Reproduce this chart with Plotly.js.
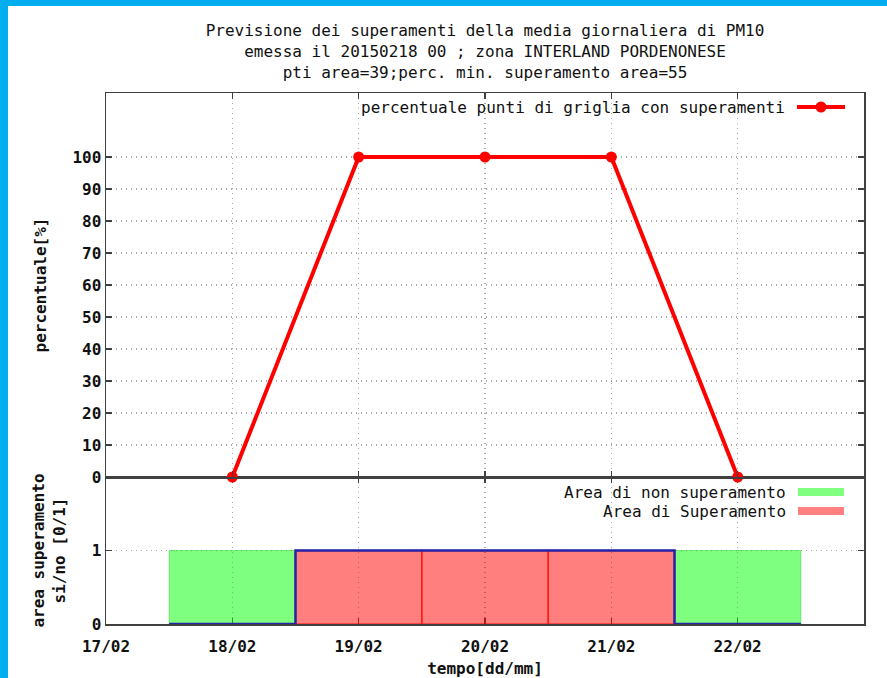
<!DOCTYPE html>
<html>
<head>
<meta charset="utf-8">
<script src="https://cdn.plot.ly/plotly-3.0.1.min.js"></script>
<style>
  html, body { margin: 0; padding: 0; background: #00AEEF; width: 887px; height: 678px; overflow: hidden; }
  #chart { position: absolute; left: 8px; top: 6px; width: 879px; height: 672px; background: #fff; }
</style>
</head>
<body>
<div id="chart"></div>
<script>
// ---- data ----
const days = [18, 19, 20, 21, 22];
const percentuale = [0, 100, 100, 100, 0];
const superamento = [0, 1, 1, 1, 0];   // 1 = area di superamento, 0 = non superamento
const tickDays = [17, 18, 19, 20, 21, 22, 23];
const tickLabels = ['17/02', '18/02', '19/02', '20/02', '21/02', '22/02', '23/02'];
const topTicks = [0, 10, 20, 30, 40, 50, 60, 70, 80, 90, 100];
const titleLines = [
  'Previsione dei superamenti della media giornaliera di PM10',
  'emessa il 20150218 00 ; zona INTERLAND PORDENONESE',
  'pti area=39;perc. min. superamento area=55'
];
const legendTop = 'percentuale punti di griglia con superamenti';
const legendNon = 'Area di non superamento';
const legendSup = 'Area di Superamento';

// ---- derived ----
const nonX = days.filter((d, i) => !superamento[i]);
const supX = days.filter((d, i) => superamento[i]);
const barW = 1;
const stepX = days.map(d => d - barW / 2).concat([days[days.length - 1] + barW / 2]);
const stepY = superamento.concat([superamento[superamento.length - 1]]);

const W = 879, H = 672;
const M = { l: 98, r: 23, t: 87, b: 54 };
const PW = W - M.l - M.r, PH = H - M.t - M.b;
const px = X => (X - M.l) / PW;
const py = Y => (H - M.b - Y) / PH;
const split = py(471);

const FONT = 'DejaVu Sans Mono';
const gridC = '#a8a8a8', lineC = '#404040';

const traces = [
  { x: nonX, y: nonX.map(() => 1), type: 'bar', width: barW, xaxis: 'x', yaxis: 'y',
    marker: { color: 'rgba(0,255,0,0.5)', line: { color: 'rgba(0,200,0,0.4)', width: 1 } },
    name: legendNon, showlegend: false, hoverinfo: 'skip' },
  { x: supX, y: supX.map(() => 1), type: 'bar', width: barW, xaxis: 'x', yaxis: 'y',
    marker: { color: 'rgba(255,0,0,0.5)', line: { color: 'rgba(255,0,0,0.6)', width: 1.5 } },
    name: legendSup, showlegend: false, hoverinfo: 'skip' },
  { x: stepX, y: stepY, type: 'scatter', mode: 'lines', xaxis: 'x', yaxis: 'y', cliponaxis: false,
    line: { color: '#2424a8', width: 2.5, shape: 'hv' }, showlegend: false, hoverinfo: 'skip' },
  { x: days, y: percentuale, type: 'scatter', mode: 'lines+markers', xaxis: 'x2', yaxis: 'y2',
    line: { color: '#ff0000', width: 4 }, marker: { color: '#ff0000', size: 11 },
    name: legendTop, showlegend: false, cliponaxis: false }
];

const axBase = {
  showline: true, linecolor: lineC, linewidth: 1.5, mirror: 'ticks',
  ticks: 'inside', ticklen: 6, tickcolor: lineC, tickwidth: 1.5,
  showgrid: true, gridcolor: gridC, griddash: '1px,4px', gridwidth: 1.2,
  zeroline: false, tickfont: { family: FONT, size: 16, weight: 'bold', color: '#111' }
};

const layout = {
  width: W, height: H,
  margin: M,
  paper_bgcolor: '#fff', plot_bgcolor: '#fff',
  barmode: 'overlay',
  font: { family: FONT, size: 16, color: '#111' },
  title: { text: titleLines.join('<br>'), x: 0.5, xref: 'paper', xanchor: 'center',
           y: 0.955, yref: 'container', yanchor: 'top',
           font: { family: FONT, size: 16, color: '#111', lineposition: 'none' } },
  xaxis: Object.assign({}, axBase, {
    range: [17, 23], tickvals: tickDays, ticktext: tickLabels, anchor: 'y',
    ticklabelstandoff: 7, layer: 'below traces',
    title: { text: 'tempo[dd/mm]', standoff: 10, font: { family: FONT, size: 16, weight: 'bold' } }
  }),
  yaxis: Object.assign({}, axBase, {
    domain: [0, split], range: [0, 2], tickvals: [0, 1], anchor: 'x',
    title: { text: 'area superamento<br>si/no [0/1]', standoff: 22, font: { family: FONT, size: 16, weight: 'bold' } }
  }),
  xaxis2: Object.assign({}, axBase, {
    range: [17, 23], tickvals: tickDays, showticklabels: false, anchor: 'y2', matches: 'x'
  }),
  yaxis2: Object.assign({}, axBase, {
    domain: [split, 1], range: [0, 120], tickvals: topTicks, anchor: 'x2',
    title: { text: 'percentuale[%]', standoff: 22, font: { family: FONT, size: 16, weight: 'bold' } }
  }),
  annotations: [
    { xref: 'paper', yref: 'paper', x: px(779), y: py(101), xanchor: 'right', yanchor: 'middle',
      text: legendTop, showarrow: false, font: { family: FONT, size: 16, color: '#111' } },
    { xref: 'paper', yref: 'paper', x: px(780), y: py(486), xanchor: 'right', yanchor: 'middle',
      text: legendNon, showarrow: false, font: { family: FONT, size: 16, color: '#111' } },
    { xref: 'paper', yref: 'paper', x: px(780), y: py(505), xanchor: 'right', yanchor: 'middle',
      text: legendSup, showarrow: false, font: { family: FONT, size: 16, color: '#111' } }
  ],
  shapes: [
    { type: 'line', xref: 'paper', yref: 'paper', x0: px(789), x1: px(837), y0: py(101), y1: py(101),
      line: { color: '#ff0000', width: 4 } },
    { type: 'circle', xref: 'paper', yref: 'paper', xsizemode: 'pixel', ysizemode: 'pixel',
      xanchor: px(813), yanchor: py(101), x0: -5.5, x1: 5.5, y0: -5.5, y1: 5.5,
      fillcolor: '#ff0000', line: { width: 0 } },
    { type: 'rect', xref: 'paper', yref: 'paper', x0: px(790), x1: px(836), y0: py(490), y1: py(482),
      fillcolor: '#80ff80', line: { width: 0 } },
    { type: 'rect', xref: 'paper', yref: 'paper', x0: px(790), x1: px(836), y0: py(509), y1: py(501),
      fillcolor: '#ff8080', line: { width: 0 } }
  ]
};

Plotly.newPlot('chart', traces, layout, { displayModeBar: false, staticPlot: true });
</script>
</body>
</html>
